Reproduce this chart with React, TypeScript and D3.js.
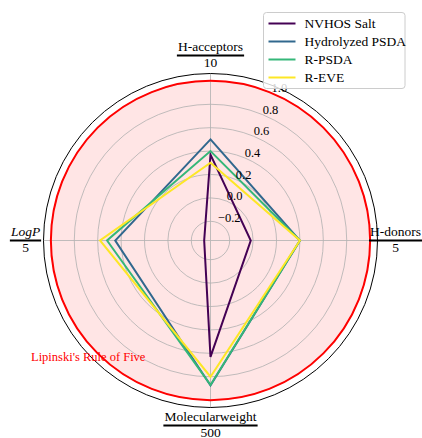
import React from "react";
import * as d3 from "d3";

const categories = ["H-acceptors", "H-donors", "Molecularweight", "LogP"];
const limits = ["10", "5", "500", "5"];
const seriesNames = ["NVHOS Salt", "Hydrolyzed PSDA", "R-PSDA", "R-EVE"];
const nvhosSalt = [0.37, -0.02, 0.63, -0.31];
const hydrolyzedPSDA = [0.5, 0.4, 0.875, 0.45];
const rPSDA = [0.4, 0.4, 0.87, 0.52];
const rEVE = [0.3, 0.4, 0.8, 0.58];
const radialTicks = [-0.2, 0.0, 0.2, 0.4, 0.6, 0.8, 1.0];
const ruleValue = 1.0;
const ruleLabel = "Lipinski's Rule of Five";

const seriesValues = [nvhosSalt, hydrolyzedPSDA, rPSDA, rEVE];
const colors = ["#440154", "#31688e", "#35b779", "#fde725"];

const W = 422;
const H = 438;
const cx = 210.5;
const cy = 240.5;
const R = 167;
const rMin = -0.364;
const rMax = 1.063;
const SERIF = "Liberation Serif";

function measure(text: string, font: string): number {
  if (typeof document === "undefined") return text.length * 6;
  const c = document.createElement("canvas");
  const ctx = c.getContext("2d");
  if (!ctx) return text.length * 6;
  ctx.font = font;
  return ctx.measureText(text).width;
}

export default function App() {
  const r = d3.scaleLinear().domain([rMin, rMax]).range([0, R]);
  const step = (2 * Math.PI) / categories.length;
  const ang = (i: number) => i * step;

  const line = d3
    .lineRadial<number>()
    .angle((_, i) => ang(i))
    .radius((d) => r(d))
    .curve(d3.curveLinearClosed);

  const fmt = (v: number) => (v < 0 ? "\u2212" : "") + Math.abs(v).toFixed(1);
  const labAng = (22.5 * Math.PI) / 180;
  const labelR = 185;
  const fs = 13.5;

  return (
    <svg
      width={W}
      height={H}
      style={{ position: "absolute", left: 0, top: 0, background: "#fff", fontFamily: SERIF }}
    >
      <g transform={`translate(${cx},${cy})`}>
        <circle r={r(ruleValue)} fill="rgba(255,0,0,0.1)" stroke="none" />
        {radialTicks.map((t) => (
          <circle key={t} r={r(t)} fill="none" stroke="#b0b0b0" strokeWidth={0.8} />
        ))}
        {categories.map((c, i) => (
          <line
            key={c}
            x1={0}
            y1={0}
            x2={R * Math.sin(ang(i))}
            y2={-R * Math.cos(ang(i))}
            stroke="#b0b0b0"
            strokeWidth={0.8}
          />
        ))}
        <circle r={r(ruleValue)} fill="none" stroke="#ff0000" strokeWidth={2} />
        <circle r={R} fill="none" stroke="#000" strokeWidth={1} />
        {seriesValues.map((vals, k) => (
          <path
            key={k}
            d={line(vals) || ""}
            fill="none"
            stroke={colors[k]}
            strokeWidth={2}
            strokeLinejoin="miter"
          />
        ))}
        {radialTicks.map((t) => (
          <text
            key={t}
            x={r(t) * Math.sin(labAng)}
            y={-r(t) * Math.cos(labAng) - 1}
            fontSize={12.5}
            fill="#000"
            style={{ fontFamily: SERIF }}
          >
            {fmt(t)}
          </text>
        ))}
        {categories.map((c, i) => {
          const a = ang(i);
          const x = labelR * Math.sin(a);
          const y = -labelR * Math.cos(a);
          const italic = c === "LogP";
          const font = `${italic ? "italic " : ""}${fs}px "${SERIF}"`;
          const w = Math.max(measure(c, font), measure(limits[i], `${fs}px "${SERIF}"`)) + 2;
          return (
            <g key={c} transform={`translate(${x},${y})`}>
              <text
                x={0}
                y={-4.5}
                textAnchor="middle"
                fontSize={fs}
                fontStyle={italic ? "italic" : "normal"}
                style={{ fontFamily: SERIF }}
              >
                {c}
              </text>
              <line x1={-w / 2} x2={w / 2} y1={0} y2={0} stroke="#000" strokeWidth={1.8} />
              <text x={0} y={11} textAnchor="middle" fontSize={fs} style={{ fontFamily: SERIF }}>
                {limits[i]}
              </text>
            </g>
          );
        })}
      </g>
      <text x={31} y={361} fontSize={12.5} fill="#ff0000" style={{ fontFamily: SERIF }}>
        {ruleLabel}
      </text>
      <g transform="translate(263.5,12.5)">
        <rect
          width={141.5}
          height={76}
          rx={3}
          fill="rgba(255,255,255,0.8)"
          stroke="#cccccc"
          strokeWidth={1}
        />
        {seriesNames.map((n, k) => (
          <g key={n} transform={`translate(0,${11 + k * 18})`}>
            <line x1={5} x2={32} y1={0} y2={0} stroke={colors[k]} strokeWidth={2} />
            <text x={41} y={4.5} fontSize={13.5} style={{ fontFamily: SERIF }}>
              {n}
            </text>
          </g>
        ))}
      </g>
    </svg>
  );
}
